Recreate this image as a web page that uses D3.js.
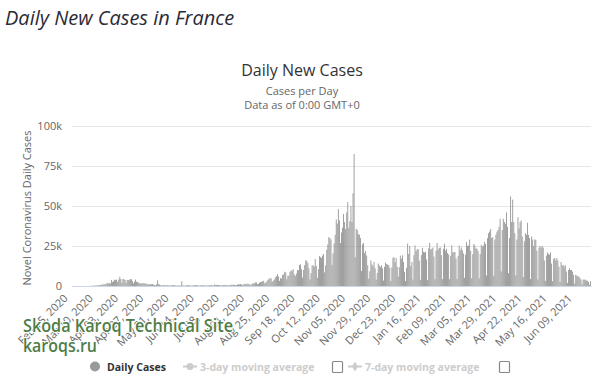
<!DOCTYPE html>
<html>
<head>
<meta charset="utf-8">
<script src="https://cdn.jsdelivr.net/npm/d3@7"></script>
<style>
  html, body { margin: 0; padding: 0; background: #fff; }
  svg { display: block; }
</style>
</head>
<body>
<svg id="chart" width="600" height="381"></svg>
<script>
// ---- Data ----
const startDate = "2020-02-15";
// Daily new cases, one row per week (Sat..Fri), starting Sat Feb 15, 2020
const dailyCases = [
  0,0,0,0,0,0,0,
  0,0,0,2,4,20,19,
  43,30,61,21,73,138,190,
  336,177,286,372,497,595,785,
  838,924,1210,1097,1404,1861,1617,
  1847,1559,3838,2446,2931,3922,3809,
  4000,2600,4000,5800,4300,2100,4500,
  4200,3800,1900,3800,3700,3900,4300,
  4300,3100,1600,2700,4000,2600,2600,
  2050,1650,1770,1540,1840,1770,1580,
  1600,1200,1170,1090,1050,1200,1220,
  800,600,400,1000,3600,1100,1000,
  580,300,450,800,350,650,560,
  400,250,350,500,400,600,480,
  300,200,280,320,280,350,3000,
  400,250,300,340,550,610,580,
  350,200,300,450,420,500,550,
  400,230,300,380,460,470,500,
  420,250,330,480,450,600,580,
  450,300,1000,500,580,650,600,
  500,300,400,550,600,650,700,
  600,350,500,700,800,600,900,
  800,400,600,900,1000,1050,1150,
  1100,500,900,1400,1100,1400,1350,
  1300,600,1000,1400,1700,1600,2300,
  2300,1100,1400,1900,2500,2700,2900,
  3300,1600,2100,2900,3800,4700,4600,
  4900,2700,3300,4000,5400,6100,7400,
  6000,3200,4900,4700,7000,7200,8900,
  8500,4200,6500,6500,8900,9800,9400,
  10500,7200,6200,7800,10000,9800,13200,
  13500,10500,5300,10000,13000,16000,15800,
  14400,11100,4100,8000,12800,13000,12100,
  16900,12500,5100,10500,18700,18100,17500,
  19000,20000,8500,12900,22600,26000,30600,
  30000,29000,13200,20500,26700,32000,41600,
  39000,48000,41000,26800,33400,36400,45000,
  40000,35600,46000,52500,36400,40500,50000,
  40000,58000,82500,18000,35800,35000,32500,
  32000,30000,9400,26000,27000,20500,22000,
  19000,13000,4500,9200,16000,13500,12500,
  15000,11000,4000,8000,14000,12700,12000,
  13000,11000,3400,12000,14600,13700,13400,
  13000,11500,3000,11500,17600,18000,15000,
  17500,12000,5900,11800,19000,17000,19200,
  15000,8800,3100,11400,26500,20000,25000,
  12500,15000,4000,19300,25300,21700,23000,
  23000,15900,3900,19300,23900,21300,21000,
  21400,16600,3700,23600,26900,22800,23300,
  24000,18400,4200,22100,26900,22900,23800,
  24100,19300,4300,23300,26400,22100,23300,
  20600,19700,4300,18900,25400,21000,21200,
  21200,17300,4400,18800,25300,22300,24100,
  22400,20300,5100,19600,27500,25200,25200,
  29000,22000,4800,19900,26300,25300,23500,
  23300,21800,4700,20000,25800,24800,25200,
  27600,26300,6500,29900,33000,34000,35600,
  30000,30600,6400,29000,32000,34000,35000,
  37000,42000,9100,35000,42000,40000,39000,
  46000,37000,8000,30000,56000,40000,54000,
  40000,33000,6700,29000,43000,36000,40000,
  41000,31000,5600,28000,33000,32000,39500,
  32000,30000,4300,31000,29000,25000,29000,
  29000,22000,4100,24000,25000,24000,25000,
  24000,16000,3200,19000,21000,20000,19500,
  21000,14000,3000,17000,17500,16000,17500,
  16000,12000,2500,15000,13000,13000,12000,
  13000,9000,1900,10000,11000,10000,10000,
  9000,7000,1500,7000,6500,6000,6000,
  5000,4000,1000,4000,4000,4000,3500,
  3200,2500,600,3000
];
const tickLabels = [
  "Feb 15, 2020","Mar 10, 2020","Apr 03, 2020","Apr 27, 2020","May 21, 2020",
  "Jun 14, 2020","Jul 08, 2020","Aug 01, 2020","Aug 25, 2020","Sep 18, 2020",
  "Oct 12, 2020","Nov 05, 2020","Nov 29, 2020","Dec 23, 2020","Jan 16, 2021",
  "Feb 09, 2021","Mar 05, 2021","Mar 29, 2021","Apr 22, 2021","May 16, 2021",
  "Jun 09, 2021"
];
const tickEvery = 24;
const yTicks = [0, 25000, 50000, 75000, 100000];
const yTickLabels = ["0", "25k", "50k", "75k", "100k"];
const legendItems = ["Daily Cases", "3-day moving average", "7-day moving average"];

// ---- Drawing ----
const svg = d3.select("#chart");
const font = "'Open Sans', 'DejaVu Sans', sans-serif";
const plot = { left: 72, right: 591, top: 126, bottom: 286 };

const dates = dailyCases.map((_, i) => d3.timeDay.offset(d3.timeParse("%Y-%m-%d")(startDate), i));
const x = d3.scaleBand().domain(d3.range(dailyCases.length)).range([plot.left, plot.right]).padding(0);
const y = d3.scaleLinear().domain([0, 100000]).range([plot.bottom, plot.top]);

// Page title
svg.append("text").attr("x", 5).attr("y", 25)
  .attr("font-family", font).attr("font-style", "italic").attr("font-size", 20)
  .attr("fill", "#2b2b38").text("Daily New Cases in France");

// Chart title + subtitles
svg.append("text").attr("x", 302).attr("y", 76).attr("text-anchor", "middle")
  .attr("font-family", font).attr("font-size", 16).attr("fill", "#333").text("Daily New Cases");
svg.append("text").attr("x", 302).attr("y", 95).attr("text-anchor", "middle")
  .attr("font-family", font).attr("font-size", 11).attr("fill", "#666").text("Cases per Day");
svg.append("text").attr("x", 302).attr("y", 109).attr("text-anchor", "middle")
  .attr("font-family", font).attr("font-size", 11).attr("fill", "#666").text("Data as of 0:00 GMT+0");

// Gridlines + y labels
const yAxis = d3.axisLeft(y).tickValues(yTicks)
  .tickFormat((d, i) => yTickLabels[i]).tickSize(-(plot.right - plot.left)).tickPadding(10);
const gy = svg.append("g").attr("transform", `translate(${plot.left},0)`).call(yAxis);
gy.select(".domain").remove();
gy.selectAll(".tick line").attr("stroke", "#e6e6e6");
gy.selectAll(".tick text").attr("font-family", font).attr("font-size", 11).attr("fill", "#666");

// Y title
svg.append("text").attr("transform", `translate(31,${(plot.top + plot.bottom) / 2 + 2}) rotate(-90)`)
  .attr("text-anchor", "middle").attr("font-family", font).attr("font-size", 11)
  .attr("fill", "#666").text("Novel Coronavirus Daily Cases");

// Bars
svg.append("g").selectAll("rect").data(dailyCases).join("rect")
  .attr("x", (d, i) => x(i) + x.bandwidth() * 0.1)
  .attr("width", x.bandwidth() * 0.8)
  .attr("y", d => y(d))
  .attr("height", d => plot.bottom - y(d))
  .attr("fill", "#8f8f8f");

// X axis
const xTickVals = tickLabels.map((_, i) => i * tickEvery);
const xAxis = d3.axisBottom(x).tickValues(xTickVals)
  .tickFormat((d, i) => tickLabels[i]).tickSize(0).tickPadding(0);
const gx = svg.append("g").attr("transform", `translate(0,${plot.bottom})`).call(xAxis);
gx.select(".domain").attr("stroke", "#ccd6eb");
gx.selectAll(".tick text")
  .attr("font-family", font).attr("font-size", 11).attr("fill", "#666")
  .attr("text-anchor", "end").attr("dy", 0).attr("y", 0)
  .attr("transform", "translate(-4,13) rotate(-45)");

// Watermark
const wm = svg.append("g").attr("font-family", font).attr("font-weight", 600)
  .attr("fill", "#4f7d48").attr("stroke", "#fff").attr("stroke-width", 2)
  .attr("paint-order", "stroke").attr("stroke-linejoin", "round").attr("font-size", 17.5);
wm.append("text").attr("x", 23).attr("y", 332)
  .attr("textLength", 210).attr("lengthAdjust", "spacingAndGlyphs").text("Skoda Karoq Technical Site");
wm.append("text").attr("x", 23).attr("y", 352)
  .attr("textLength", 74).attr("lengthAdjust", "spacingAndGlyphs").text("karoqs.ru");

// Legend
const lg = svg.append("g").attr("font-family", font).attr("font-size", 10.5).attr("font-weight", "bold");
lg.append("circle").attr("cx", 95).attr("cy", 366.5).attr("r", 5).attr("fill", "#999");
lg.append("text").attr("x", 107).attr("y", 370.5).attr("fill", "#333").text(legendItems[0]);
// 3-day
lg.append("line").attr("x1", 183).attr("x2", 197).attr("y1", 366.5).attr("y2", 366.5)
  .attr("stroke", "#ccc").attr("stroke-width", 2);
lg.append("circle").attr("cx", 190).attr("cy", 366.5).attr("r", 3.5).attr("fill", "#ccc");
lg.append("text").attr("x", 200).attr("y", 370.5).attr("fill", "#ccc").text(legendItems[1]);
lg.append("rect").attr("x", 332.5).attr("y", 361.5).attr("width", 10).attr("height", 11)
  .attr("rx", 1).attr("fill", "#fff").attr("stroke", "#888").attr("stroke-width", 1.2);
// 7-day
lg.append("line").attr("x1", 348).attr("x2", 362).attr("y1", 366.5).attr("y2", 366.5)
  .attr("stroke", "#ccc").attr("stroke-width", 2);
lg.append("path").attr("d", d3.symbol(d3.symbolDiamond, 30)()).attr("transform", "translate(355,366.5)")
  .attr("fill", "#ccc");
lg.append("text").attr("x", 365).attr("y", 370.5).attr("fill", "#ccc").text(legendItems[2]);
lg.append("rect").attr("x", 499.5).attr("y", 361.5).attr("width", 10).attr("height", 11)
  .attr("rx", 1).attr("fill", "#fff").attr("stroke", "#888").attr("stroke-width", 1.2);
</script>
</body>
</html>
